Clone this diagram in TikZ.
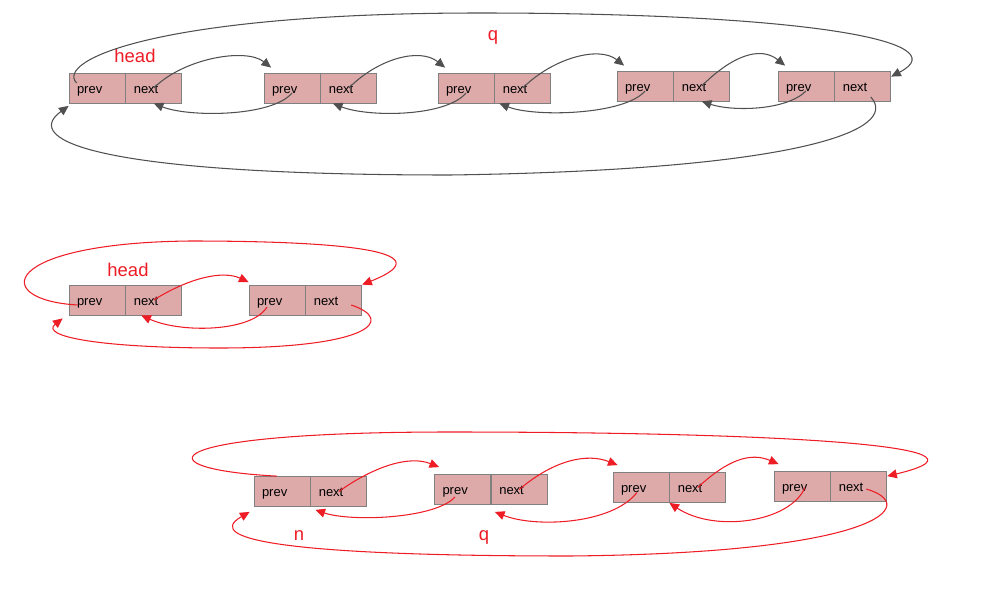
\documentclass[tikz,border=0pt]{standalone}
\usepackage{fontspec}
\setmainfont{Liberation Sans}
\usetikzlibrary{arrows.meta,positioning}
\definecolor{cellfill}{HTML}{DDA9A9}
\definecolor{celldraw}{HTML}{808080}
\definecolor{linkgray}{HTML}{505050}
\definecolor{linkred}{HTML}{EE1C25}

\begin{document}
\begin{tikzpicture}[x=0.02cm, y=-0.02cm,
  cell/.style={draw=celldraw, fill=cellfill, line width=0.45pt, minimum height=0.6cm, text width=0.8cm, text height=7pt, text depth=0.8pt, inner xsep=0.16cm, inner ysep=0pt, align=left, font=\fontsize{7.4}{9}\selectfont},
  tag/.style={text=linkred, font=\fontsize{10.5}{12}\selectfont},
  garr/.style={-{Triangle[length=5.5pt,width=5pt]}, line width=0.6pt, linkgray},
  rarr/.style={-{Triangle[length=5.5pt,width=5pt]}, line width=0.6pt, linkred}]

\useasboundingbox (0,0) rectangle (995,602);

% full list
\node[cell] (a1p) at (97,88) {prev};
\node[cell, right=0pt of a1p] (a1n) {next};
\node[cell] (a2p) at (292,88) {prev};
\node[cell, right=0pt of a2p] (a2n) {next};
\node[cell] (a3p) at (466,88) {prev};
\node[cell, right=0pt of a3p] (a3n) {next};
\node[cell] (a4p) at (645,86) {prev};
\node[cell, right=0pt of a4p] (a4n) {next};
\node[cell] (a5p) at (806,86) {prev};
\node[cell, right=0pt of a5p] (a5n) {next};
\node[tag] (head1) at (135,56) {head};
\node[tag] (q1) at (493,37) {q};

\draw[garr] (a1n.center) .. controls +(30,-30) and +(-25,-20) .. ([xshift=.15cm,yshift=.1cm]a2p.north west);
\draw[garr] (a2n.center) .. controls +(30,-30) and +(-25,-20) .. ([xshift=.15cm,yshift=.1cm]a3p.north west);
\draw[garr] (a3n.center) .. controls +(30,-30) and +(-25,-20) .. ([xshift=.15cm,yshift=.1cm]a4p.north west);
\draw[garr] (a4n.center) .. controls +(30,-30) and +(-25,-20) .. ([xshift=.15cm,yshift=.1cm]a5p.north west);

\draw[garr] ([yshift=-.1cm]a2p.center) .. controls +(-20,24) and +(35,14) .. (a1n.south);
\draw[garr] ([yshift=-.1cm]a3p.center) .. controls +(-20,24) and +(35,14) .. ([xshift=.25cm]a2n.south west);
\draw[garr] ([yshift=-.1cm]a4p.center) .. controls +(-20,24) and +(35,14) .. ([xshift=.1cm]a3n.south west);
\draw[garr] ([yshift=-.1cm]a5p.center) .. controls +(-20,20) and +(30,10) .. (a4n.south);

\draw[garr] ([xshift=.16cm,yshift=.1cm]a1p.west) .. controls +(-22,-23) and +(-320,0) .. (480,13)
  .. controls +(320,0) and +(69,-36) .. ([yshift=-.12cm]a5n.north east);
\draw[garr] ([xshift=.16cm,yshift=-.22cm]a5n.center) .. controls +(30,33) and +(350,-5) .. (450,175)
  .. controls +(-350,0) and +(-48,35) .. ([yshift=-.05cm]a1p.south west);

% two nodes
\node[cell] (bap) at (97,300) {prev};
\node[cell, right=0pt of bap] (ban) {next};
\node[cell] (bbp) at (277,300) {prev};
\node[cell, right=0pt of bbp] (bbn) {next};
\node[tag] (head2) at (128,270) {head};

\draw[rarr] (ban.center) .. controls +(35,-22) and +(-26,-12) .. ([yshift=.05cm]bbp.north west);
\draw[rarr] ([xshift=-.2cm,yshift=-.14cm]bbp.center) .. controls +(-15,25) and +(40,18) .. ([xshift=-.25cm]ban.south);
\draw[rarr] ([xshift=.18cm,yshift=-.1cm]bap.west) .. controls +(-88,-5) and +(-190,2) .. (190,241)
  .. controls +(140,0) and +(88,-35) .. (bbn.north east);
\draw[rarr] ([xshift=-.22cm,yshift=-.1cm]bbn.east) .. controls +(45,15) and +(150,0) .. (220,348)
  .. controls +(-120,0) and +(-23,18) .. ([xshift=-.12cm,yshift=-.06cm]bap.south west);

% insert n before q
\node[cell] (c1p) at (282,491.5) {prev};
\node[cell, right=0pt of c1p] (c1n) {next};
\node[cell] (c2p) at (462.5,489.5) {prev};
\node[cell, right=0pt of c2p] (c2n) {next};
\node[cell] (c3p) at (641,487.5) {prev};
\node[cell, right=0pt of c3p] (c3n) {next};
\node[cell] (c4p) at (802,486.5) {prev};
\node[cell, right=0pt of c4p] (c4n) {next};
\node[tag] (n3) at (299,536) {n};
\node[tag] (q3) at (484,537) {q};

\draw[rarr] (c1n.center) .. controls +(35,-25) and +(-30,-12) .. ([xshift=.1cm,yshift=.14cm]c2p.north west);
\draw[rarr] (c2n.center) .. controls +(35,-30) and +(-30,-12) .. ([xshift=.1cm,yshift=.14cm]c3p.north west);
\draw[rarr] (c3n.center) .. controls +(30,-28) and +(-28,-12) .. ([xshift=.1cm,yshift=.14cm]c4p.north west);

\draw[rarr] ([xshift=-.15cm,yshift=-.15cm]c2p.center) .. controls +(-20,22) and +(35,12) .. ([xshift=.1cm,yshift=-.06cm]c1n.south west);
\draw[rarr] ([xshift=-.08cm,yshift=-.1cm]c3p.center) .. controls +(-25,32) and +(40,16) .. ([xshift=.08cm,yshift=-.14cm]c2n.south west);
\draw[rarr] ([xshift=.06cm,yshift=-.02cm]c4p.center) .. controls +(-15,35) and +(45,30) .. (c3n.south west);

\draw[rarr] ([xshift=-.1cm]c1p.north) .. controls +(-137,-7) and +(-300,0) .. (450,432)
  .. controls +(300,0) and +(135,-32) .. ([yshift=-.1cm]c4n.north east);
\draw[rarr] ([xshift=.15cm,yshift=-.05cm]c4n.center) .. controls +(55,16) and +(310,-3) .. (570,556)
  .. controls +(-270,0) and +(-50,29) .. ([xshift=-.08cm,yshift=-.1cm]c1p.south west);
\end{tikzpicture}
\end{document}
